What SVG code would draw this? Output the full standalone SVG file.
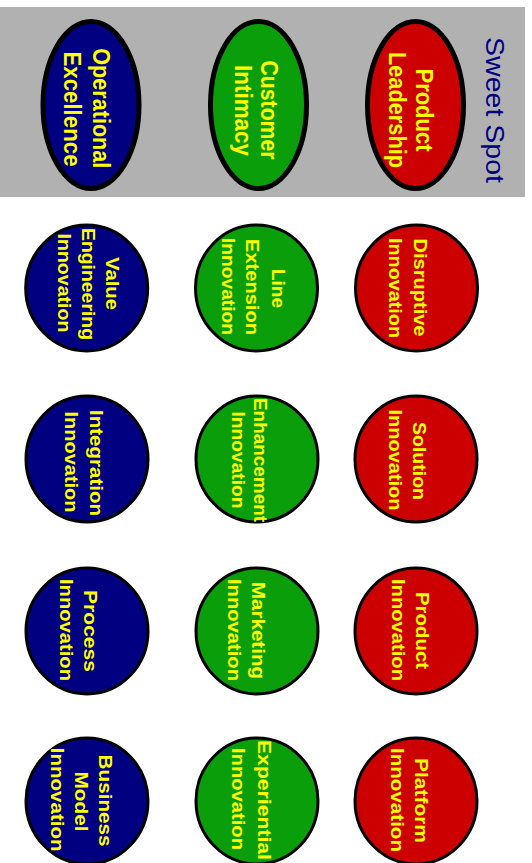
<svg xmlns="http://www.w3.org/2000/svg" width="532" height="863" viewBox="0 0 532 863">
<style>
.band{fill:#b1b1b1}
.big{stroke:#000;stroke-width:5}
.sm{stroke:#000;stroke-width:3}
.red{fill:#cc0000}
.grn{fill:#0a9f0a}
.blu{fill:#000080}
text{font-family:"Liberation Sans Narrow","Liberation Sans",Arial,sans-serif;font-weight:bold;fill:#ffff00;text-anchor:middle}
.t1{font-size:23px}
.t2{font-size:19px}
.title{font-family:"Liberation Sans",Arial,sans-serif;font-weight:normal;font-size:26px;fill:#000080}
</style>
<rect class="band" x="0" y="7" width="525" height="190"/>
<g id="sweet-spot">
<text class="title" transform="translate(485.5,110) rotate(90)" textLength="146" lengthAdjust="spacingAndGlyphs">Sweet Spot</text>
</g>
<g id="product-leadership">
<ellipse class="big red" cx="415.5" cy="105" rx="48" ry="83.5"/>
<text class="t1" transform="translate(416,110) rotate(90)" textLength="83" lengthAdjust="spacingAndGlyphs">Product</text>
<text class="t1" transform="translate(389,110) rotate(90)" textLength="116" lengthAdjust="spacingAndGlyphs">Leadership</text>
</g>
<g id="customer-intimacy">
<ellipse class="big grn" cx="258.5" cy="105" rx="48" ry="83.5"/>
<text class="t1" transform="translate(261,110) rotate(90)" textLength="99" lengthAdjust="spacingAndGlyphs">Customer</text>
<text class="t1" transform="translate(235,110.5) rotate(90)" textLength="91" lengthAdjust="spacingAndGlyphs">Intimacy</text>
</g>
<g id="operational-excellence">
<ellipse class="big blu" cx="91" cy="105" rx="48" ry="83.5"/>
<text class="t1" transform="translate(93,108.3) rotate(90)" textLength="120" lengthAdjust="spacingAndGlyphs">Operational</text>
<text class="t1" transform="translate(64,109) rotate(90)" textLength="115" lengthAdjust="spacingAndGlyphs">Excellence</text>
</g>
<g id="disruptive-innovation">
<ellipse class="sm red" cx="416.5" cy="288" rx="61" ry="63"/>
<text class="t2" transform="translate(414,287.5) rotate(90)" textLength="98" lengthAdjust="spacingAndGlyphs">Disruptive</text>
<text class="t2" transform="translate(389,288) rotate(90)" textLength="100" lengthAdjust="spacingAndGlyphs">Innovation</text>
</g>
<g id="line-extension-innovation">
<ellipse class="sm grn" cx="256.5" cy="288" rx="61" ry="63"/>
<text class="t2" transform="translate(272,288.5) rotate(90)" textLength="39" lengthAdjust="spacingAndGlyphs">Line</text>
<text class="t2" transform="translate(246,287) rotate(90)" textLength="96" lengthAdjust="spacingAndGlyphs">Extension</text>
<text class="t2" transform="translate(222,286.5) rotate(90)" textLength="97" lengthAdjust="spacingAndGlyphs">Innovation</text>
</g>
<g id="value-engineering-innovation">
<ellipse class="sm blu" cx="86.7" cy="288" rx="61" ry="63"/>
<text class="t2" transform="translate(106,283.5) rotate(90)" textLength="53" lengthAdjust="spacingAndGlyphs">Value</text>
<text class="t2" transform="translate(82,284) rotate(90)" textLength="112" lengthAdjust="spacingAndGlyphs">Engineering</text>
<text class="t2" transform="translate(57.5,283) rotate(90)" textLength="99" lengthAdjust="spacingAndGlyphs">Innovation</text>
</g>
<g id="solution-innovation">
<ellipse class="sm red" cx="416" cy="459" rx="61" ry="63"/>
<text class="t2" transform="translate(413,461) rotate(90)" textLength="78" lengthAdjust="spacingAndGlyphs">Solution</text>
<text class="t2" transform="translate(389,460) rotate(90)" textLength="101" lengthAdjust="spacingAndGlyphs">Innovation</text>
</g>
<g id="line-enhancement-innovation">
<ellipse class="sm grn" cx="257" cy="459" rx="61" ry="63"/>
<text class="t2" transform="translate(253.5,460) rotate(90)" textLength="124" lengthAdjust="spacingAndGlyphs">Enhancement</text>
<text class="t2" transform="translate(232,460) rotate(90)" textLength="97" lengthAdjust="spacingAndGlyphs">Innovation</text>
</g>
<g id="integration-innovation">
<ellipse class="sm blu" cx="87" cy="459" rx="61" ry="63"/>
<text class="t2" transform="translate(89.5,463) rotate(90)" textLength="106" lengthAdjust="spacingAndGlyphs">Integration</text>
<text class="t2" transform="translate(65,462) rotate(90)" textLength="101" lengthAdjust="spacingAndGlyphs">Innovation</text>
</g>
<g id="product-innovation">
<ellipse class="sm red" cx="416" cy="631" rx="61" ry="63"/>
<text class="t2" transform="translate(415.5,630.5) rotate(90)" textLength="77" lengthAdjust="spacingAndGlyphs">Product</text>
<text class="t2" transform="translate(391.5,630) rotate(90)" textLength="102" lengthAdjust="spacingAndGlyphs">Innovation</text>
</g>
<g id="marketing-innovation">
<ellipse class="sm grn" cx="257" cy="631" rx="61" ry="63"/>
<text class="t2" transform="translate(252,630.5) rotate(90)" textLength="97" lengthAdjust="spacingAndGlyphs">Marketing</text>
<text class="t2" transform="translate(228,630) rotate(90)" textLength="102" lengthAdjust="spacingAndGlyphs">Innovation</text>
</g>
<g id="process-innovation">
<ellipse class="sm blu" cx="87" cy="631" rx="61" ry="63"/>
<text class="t2" transform="translate(83.5,631) rotate(90)" textLength="82" lengthAdjust="spacingAndGlyphs">Process</text>
<text class="t2" transform="translate(60,630) rotate(90)" textLength="102" lengthAdjust="spacingAndGlyphs">Innovation</text>
</g>
<g id="platform-innovation">
<ellipse class="sm red" cx="416" cy="801" rx="61" ry="63"/>
<text class="t2" transform="translate(414.5,800.5) rotate(90)" textLength="85" lengthAdjust="spacingAndGlyphs">Platform</text>
<text class="t2" transform="translate(390.5,800) rotate(90)" textLength="104" lengthAdjust="spacingAndGlyphs">Innovation</text>
</g>
<g id="experiential-innovation">
<ellipse class="sm grn" cx="257" cy="801" rx="61" ry="63"/>
<text class="t2" transform="translate(258,800) rotate(90)" textLength="120" lengthAdjust="spacingAndGlyphs">Experiential</text>
<text class="t2" transform="translate(232,799) rotate(90)" textLength="102" lengthAdjust="spacingAndGlyphs">Innovation</text>
</g>
<g id="business-model-innovation">
<ellipse class="sm blu" cx="87" cy="801" rx="61" ry="63"/>
<text class="t2" transform="translate(99,800.6) rotate(90)" textLength="92" lengthAdjust="spacingAndGlyphs">Business</text>
<text class="t2" transform="translate(75,801.5) rotate(90)" textLength="60" lengthAdjust="spacingAndGlyphs">Model</text>
<text class="t2" transform="translate(51,799.7) rotate(90)" textLength="104" lengthAdjust="spacingAndGlyphs">Innovation</text>
</g>
</svg>
